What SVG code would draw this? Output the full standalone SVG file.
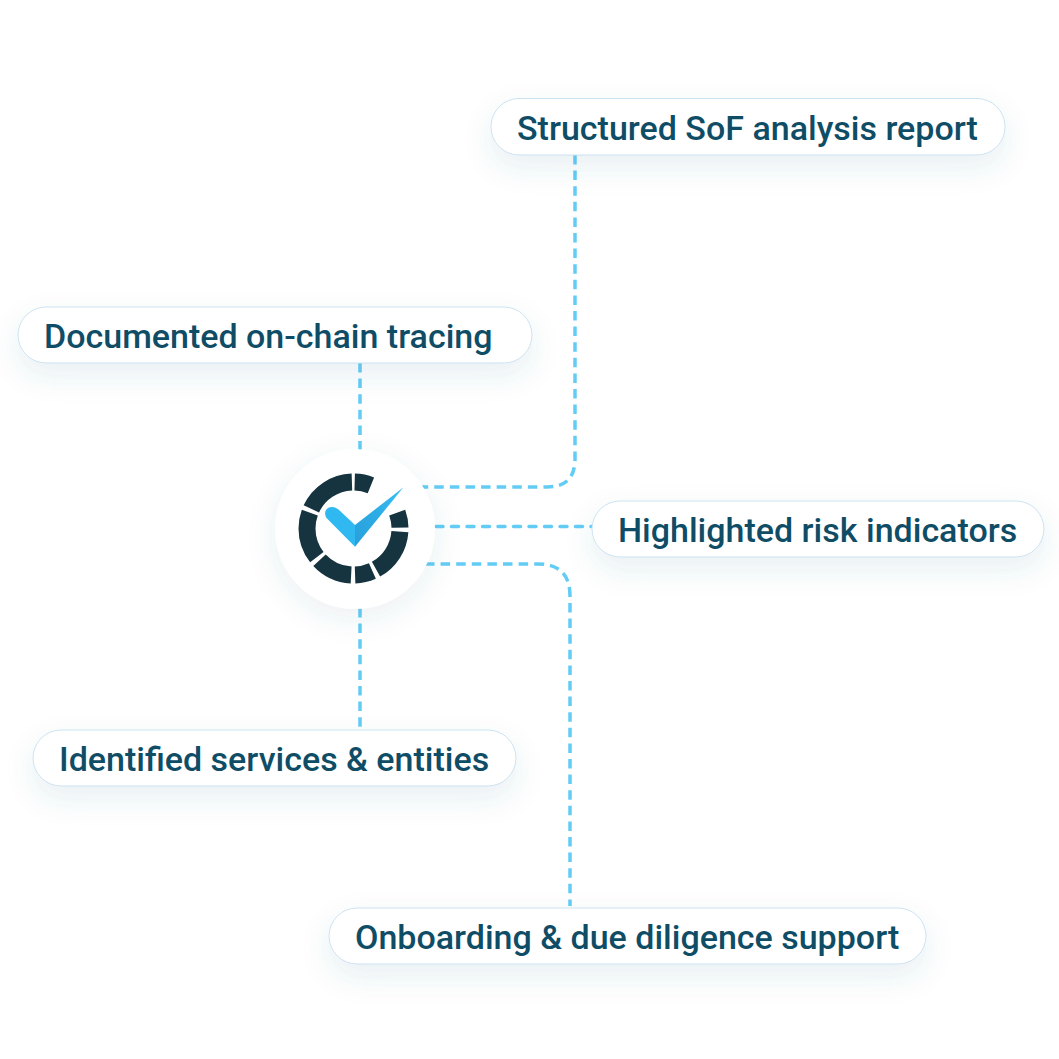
<svg xmlns="http://www.w3.org/2000/svg" width="1059" height="1059" viewBox="0 0 1059 1059">
<style>
.pill{fill:#fff;stroke:#cbe2f1;stroke-width:1;filter:url(#sh)}
.lbl{font-family:Roboto,"Liberation Sans",sans-serif;font-weight:500;font-size:34px;fill:#0f4d66}
.con{fill:none;stroke:#63ccf5;stroke-width:3.5;stroke-dasharray:9.5 6.1}
</style>
<defs>
<filter id="sh" x="-20%" y="-80%" width="140%" height="300%"><feDropShadow dx="0" dy="12" stdDeviation="14" flood-color="#3f6f92" flood-opacity="0.11"/></filter>
<filter id="shc" x="-40%" y="-40%" width="180%" height="180%"><feDropShadow dx="0" dy="8" stdDeviation="14" flood-color="#3f6f92" flood-opacity="0.1"/></filter>
<linearGradient id="chk" x1="0" y1="1" x2="1" y2="0"><stop offset="0" stop-color="#2a9fdc"/><stop offset="0.5" stop-color="#2cace5"/><stop offset="1" stop-color="#3cc0f2"/></linearGradient>
</defs>
<g id="connectors">
<path class="con" d="M575 155V459Q575 487 547 487H420"/>
<path class="con" d="M436 526.500H592" style="stroke-dasharray:7 8.500;stroke-linecap:round"/>
<path class="con" d="M425 564H538Q570 564 570 596V906"/>
<path class="con" d="M360 363V450"/>
<path class="con" d="M360 608V730"/>
</g>
<g id="center">
<circle cx="355" cy="529" r="80" fill="#fff" filter="url(#shc)"/>
<circle cx="353.500" cy="528.500" r="46.500" fill="none" stroke="#16343f" stroke-width="17" pathLength="360" stroke-dasharray="0 1.500 20.500 48 19 5 57 5 22 5 44 5 58 5 63 2" transform="rotate(-90 353.500 528.500)"/>
<path d="M355 525L403.500 487.300L355 546.700Z" fill="url(#chk)"/>
<path d="M355 525L338.500 509.500C331 503.500 321.500 509 326.500 518L355 546.700Z" fill="#2fb9f0"/>
</g>
<g id="node-report"><rect class="pill" x="491" y="98.500" width="514" height="56.500" rx="28"/><text class="lbl" x="517" y="140">Structured SoF analysis report</text></g>
<g id="node-tracing"><rect class="pill" x="18" y="307" width="514" height="56" rx="28"/><text class="lbl" x="44" y="348">Documented on-chain tracing</text></g>
<g id="node-risk"><rect class="pill" x="592" y="501" width="452" height="56" rx="28"/><text class="lbl" x="618" y="542">Highlighted risk indicators</text></g>
<g id="node-services"><rect class="pill" x="33" y="730" width="483" height="56" rx="28"/><text class="lbl" x="59" y="771">Identified services &amp; entities</text></g>
<g id="node-onboarding"><rect class="pill" x="329" y="908" width="597" height="56" rx="28"/><text class="lbl" x="355" y="949">Onboarding &amp; due diligence support</text></g>
</svg>
